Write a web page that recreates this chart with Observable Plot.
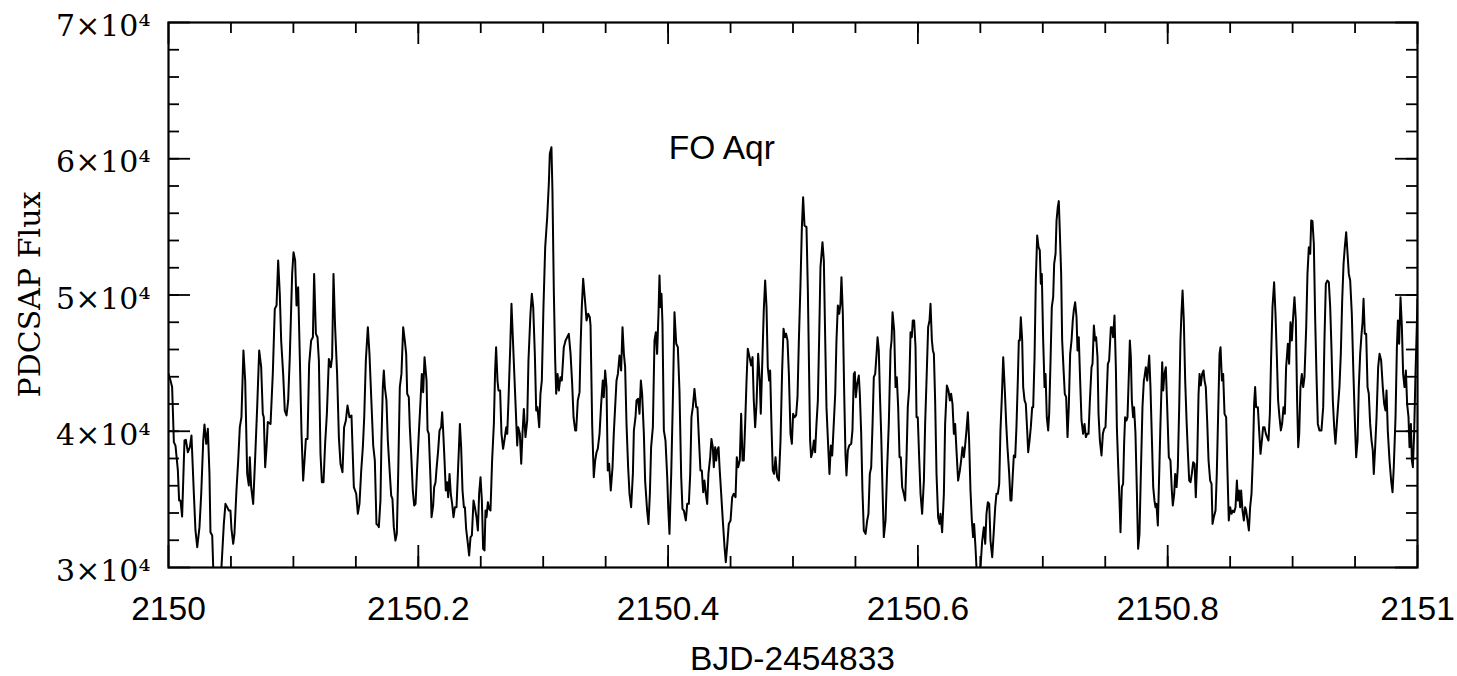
<!DOCTYPE html>
<html>
<head>
<meta charset="utf-8">
<script src="https://cdn.jsdelivr.net/npm/d3@7"></script>
<script src="https://cdn.jsdelivr.net/npm/@observablehq/plot@0.6"></script>
<style>
  html, body { margin: 0; padding: 0; background: #fff; }
  svg { display: block; }
</style>
</head>
<body>
<div id="chart"></div>
<script>
// FO Aqr light curve: PDCSAP flux over one day, BJD - 2454833
const t0 = 2150;

// time since t0, in days
const dt = [
  0.0000,0.0016,0.0029,0.0043,0.0056,0.0075,0.0085,0.0096,0.0109,0.0128,
  0.0139,0.0155,0.0171,0.0184,0.0203,0.0216,0.0230,0.0248,0.0262,0.0278,
  0.0288,0.0302,0.0315,0.0328,0.0336,0.0350,0.0358,0.0390,0.0424,0.0443,
  0.0456,0.0470,0.0483,0.0496,0.0504,0.0518,0.0528,0.0544,0.0558,0.0571,
  0.0584,0.0600,0.0614,0.0630,0.0643,0.0651,0.0662,0.0678,0.0694,0.0710,
  0.0726,0.0742,0.0755,0.0763,0.0774,0.0785,0.0795,0.0817,0.0835,0.0851,
  0.0865,0.0878,0.0891,0.0902,0.0918,0.0931,0.0945,0.0958,0.0971,0.0990,
  0.1001,0.1014,0.1025,0.1038,0.1052,0.1065,0.1078,0.1089,0.1100,0.1113,
  0.1126,0.1142,0.1156,0.1166,0.1180,0.1193,0.1204,0.1217,0.1228,0.1241,
  0.1254,0.1268,0.1284,0.1300,0.1310,0.1321,0.1334,0.1350,0.1364,0.1377,
  0.1393,0.1406,0.1420,0.1433,0.1449,0.1465,0.1484,0.1503,0.1516,0.1529,
  0.1543,0.1556,0.1567,0.1580,0.1596,0.1609,0.1623,0.1639,0.1652,0.1665,
  0.1679,0.1684,0.1697,0.1705,0.1716,0.1724,0.1732,0.1745,0.1756,0.1772,
  0.1783,0.1793,0.1804,0.1817,0.1828,0.1839,0.1852,0.1865,0.1879,0.1892,
  0.1903,0.1911,0.1924,0.1932,0.1943,0.1956,0.1967,0.1978,0.1991,0.2004,
  0.2018,0.2028,0.2039,0.2050,0.2066,0.2074,0.2084,0.2098,0.2106,0.2119,
  0.2127,0.2138,0.2146,0.2159,0.2170,0.2183,0.2191,0.2199,0.2210,0.2220,
  0.2231,0.2239,0.2250,0.2260,0.2271,0.2282,0.2293,0.2306,0.2319,0.2333,
  0.2343,0.2354,0.2365,0.2373,0.2383,0.2397,0.2407,0.2418,0.2429,0.2442,
  0.2453,0.2466,0.2477,0.2487,0.2498,0.2509,0.2519,0.2530,0.2538,0.2546,
  0.2557,0.2567,0.2578,0.2591,0.2605,0.2615,0.2623,0.2634,0.2642,0.2655,
  0.2666,0.2679,0.2693,0.2704,0.2712,0.2722,0.2736,0.2746,0.2760,0.2773,
  0.2792,0.2800,0.2813,0.2824,0.2834,0.2845,0.2858,0.2872,0.2882,0.2898,
  0.2909,0.2920,0.2933,0.2944,0.2954,0.2968,0.2978,0.2989,0.3002,0.3016,
  0.3032,0.3045,0.3053,0.3066,0.3074,0.3085,0.3096,0.3104,0.3115,0.3125,
  0.3138,0.3149,0.3165,0.3179,0.3192,0.3205,0.3219,0.3232,0.3243,0.3256,
  0.3264,0.3277,0.3291,0.3299,0.3309,0.3320,0.3339,0.3347,0.3360,0.3373,
  0.3379,0.3392,0.3405,0.3416,0.3427,0.3437,0.3451,0.3464,0.3477,0.3485,
  0.3496,0.3507,0.3517,0.3528,0.3541,0.3555,0.3565,0.3576,0.3587,0.3598,
  0.3611,0.3624,0.3635,0.3646,0.3656,0.3667,0.3680,0.3691,0.3704,0.3718,
  0.3726,0.3739,0.3747,0.3760,0.3771,0.3782,0.3792,0.3806,0.3816,0.3832,
  0.3843,0.3854,0.3864,0.3878,0.3891,0.3902,0.3912,0.3923,0.3931,0.3939,
  0.3947,0.3955,0.3966,0.3979,0.3993,0.4001,0.4011,0.4025,0.4038,0.4051,
  0.4065,0.4078,0.4091,0.4105,0.4115,0.4126,0.4142,0.4153,0.4166,0.4177,
  0.4187,0.4198,0.4211,0.4225,0.4235,0.4246,0.4259,0.4270,0.4281,0.4291,
  0.4302,0.4313,0.4323,0.4337,0.4347,0.4358,0.4366,0.4377,0.4385,0.4393,
  0.4404,0.4412,0.4425,0.4438,0.4452,0.4462,0.4473,0.4486,0.4500,0.4513,
  0.4526,0.4540,0.4550,0.4561,0.4574,0.4585,0.4596,0.4606,0.4617,0.4628,
  0.4638,0.4652,0.4665,0.4676,0.4686,0.4697,0.4708,0.4721,0.4734,0.4742,
  0.4756,0.4766,0.4777,0.4788,0.4798,0.4809,0.4817,0.4828,0.4838,0.4849,
  0.4860,0.4873,0.4887,0.4900,0.4913,0.4924,0.4937,0.4945,0.4956,0.4967,
  0.4980,0.4991,0.5001,0.5012,0.5025,0.5036,0.5047,0.5060,0.5071,0.5081,
  0.5092,0.5108,0.5119,0.5129,0.5137,0.5145,0.5156,0.5167,0.5177,0.5188,
  0.5199,0.5210,0.5220,0.5236,0.5247,0.5258,0.5268,0.5282,0.5292,0.5303,
  0.5314,0.5327,0.5338,0.5348,0.5359,0.5370,0.5380,0.5388,0.5399,0.5410,
  0.5420,0.5428,0.5439,0.5450,0.5466,0.5476,0.5487,0.5495,0.5503,0.5514,
  0.5527,0.5535,0.5546,0.5556,0.5567,0.5581,0.5594,0.5604,0.5615,0.5626,
  0.5637,0.5647,0.5658,0.5669,0.5677,0.5687,0.5695,0.5706,0.5717,0.5727,
  0.5741,0.5754,0.5767,0.5781,0.5789,0.5797,0.5810,0.5821,0.5831,0.5842,
  0.5853,0.5863,0.5874,0.5887,0.5898,0.5909,0.5919,0.5930,0.5941,0.5951,
  0.5959,0.5970,0.5981,0.5989,0.5999,0.6010,0.6021,0.6034,0.6048,0.6058,
  0.6069,0.6082,0.6093,0.6101,0.6112,0.6120,0.6128,0.6138,0.6149,0.6162,
  0.6173,0.6181,0.6194,0.6208,0.6218,0.6232,0.6245,0.6256,0.6266,0.6277,
  0.6288,0.6298,0.6309,0.6322,0.6336,0.6346,0.6357,0.6368,0.6378,0.6389,
  0.6400,0.6410,0.6421,0.6432,0.6442,0.6450,0.6461,0.6469,0.6480,0.6501,
  0.6515,0.6528,0.6539,0.6549,0.6560,0.6571,0.6581,0.6595,0.6608,0.6619,
  0.6629,0.6640,0.6651,0.6661,0.6672,0.6683,0.6696,0.6707,0.6717,0.6731,
  0.6741,0.6749,0.6760,0.6768,0.6779,0.6789,0.6800,0.6808,0.6816,0.6824,
  0.6835,0.6843,0.6854,0.6864,0.6875,0.6883,0.6894,0.6904,0.6915,0.6923,
  0.6934,0.6944,0.6955,0.6966,0.6976,0.6984,0.6992,0.7003,0.7014,0.7022,
  0.7032,0.7043,0.7051,0.7062,0.7072,0.7083,0.7091,0.7102,0.7110,0.7120,
  0.7128,0.7136,0.7147,0.7155,0.7168,0.7176,0.7187,0.7198,0.7208,0.7219,
  0.7230,0.7240,0.7248,0.7259,0.7270,0.7278,0.7288,0.7299,0.7310,0.7323,
  0.7334,0.7345,0.7355,0.7366,0.7377,0.7390,0.7398,0.7409,0.7419,0.7427,
  0.7438,0.7446,0.7457,0.7470,0.7481,0.7491,0.7502,0.7513,0.7521,0.7531,
  0.7545,0.7553,0.7563,0.7574,0.7585,0.7593,0.7603,0.7614,0.7622,0.7633,
  0.7643,0.7651,0.7659,0.7670,0.7678,0.7689,0.7697,0.7705,0.7713,0.7723,
  0.7731,0.7742,0.7753,0.7763,0.7774,0.7785,0.7798,0.7809,0.7814,0.7825,
  0.7836,0.7844,0.7852,0.7862,0.7873,0.7884,0.7894,0.7902,0.7910,0.7921,
  0.7932,0.7942,0.7956,0.7964,0.7974,0.7985,0.7996,0.8009,0.8022,0.8033,
  0.8041,0.8052,0.8060,0.8071,0.8081,0.8092,0.8102,0.8110,0.8119,0.8129,
  0.8140,0.8151,0.8161,0.8172,0.8183,0.8193,0.8204,0.8215,0.8225,0.8236,
  0.8247,0.8255,0.8265,0.8276,0.8287,0.8295,0.8305,0.8316,0.8327,0.8340,
  0.8351,0.8359,0.8369,0.8383,0.8393,0.8404,0.8415,0.8423,0.8434,0.8444,
  0.8455,0.8468,0.8479,0.8489,0.8500,0.8511,0.8522,0.8532,0.8543,0.8554,
  0.8562,0.8570,0.8580,0.8588,0.8599,0.8610,0.8620,0.8628,0.8639,0.8650,
  0.8660,0.8671,0.8682,0.8692,0.8700,0.8708,0.8722,0.8732,0.8743,0.8754,
  0.8764,0.8775,0.8786,0.8796,0.8807,0.8818,0.8828,0.8839,0.8852,0.8863,
  0.8874,0.8884,0.8895,0.8906,0.8916,0.8927,0.8938,0.8948,0.8962,0.8972,
  0.8983,0.8994,0.9004,0.9015,0.9026,0.9036,0.9045,0.9053,0.9063,0.9074,
  0.9085,0.9095,0.9109,0.9119,0.9130,0.9141,0.9149,0.9159,0.9170,0.9181,
  0.9191,0.9202,0.9215,0.9231,0.9245,0.9255,0.9266,0.9279,0.9290,0.9301,
  0.9311,0.9322,0.9333,0.9343,0.9354,0.9365,0.9375,0.9386,0.9397,0.9408,
  0.9418,0.9429,0.9440,0.9450,0.9461,0.9474,0.9487,0.9501,0.9509,0.9520,
  0.9530,0.9541,0.9552,0.9560,0.9568,0.9578,0.9589,0.9600,0.9610,0.9621,
  0.9632,0.9642,0.9650,0.9661,0.9672,0.9685,0.9696,0.9709,0.9722,0.9733,
  0.9744,0.9752,0.9762,0.9776,0.9789,0.9800,0.9810,0.9824,0.9835,0.9843,
  0.9853,0.9864,0.9875,0.9885,0.9896,0.9907,0.9917,0.9928,0.9936,0.9947,
  0.9955,0.9963,0.9973,0.9984,0.9995,1.0000
];

// PDCSAP flux (e-/s)
const flux = [
  44210,43720,43240,39200,38950,37120,34920,34920,33740,39320,
  39370,38460,38830,39690,35410,32720,31490,32960,35410,39320,
  40500,39080,40180,36870,32590,32350,30020,28000,30020,33200,
  34670,34430,34180,34180,32840,31740,32470,35650,37850,40300,
  41030,45930,43720,36870,36020,38100,35900,34670,38100,41770,
  45930,44700,41280,41030,37360,38830,40670,40540,44210,48980,
  49230,52530,50090,46660,44210,41520,41160,42260,45440,51550,
  53140,52530,49230,50570,45190,39810,36380,37850,39440,39440,
  44950,46660,46900,51550,47150,46900,45190,38340,36260,36260,
  39080,41280,45310,44700,45440,51550,47640,44210,39570,37610,
  36990,40300,40790,41890,41030,41160,35900,35410,33940,34670,
  37120,38830,41030,45190,47640,45680,42500,38950,37850,33200,
  33080,32960,34920,39320,43240,44460,43240,42260,39320,36870,
  35280,35040,32960,31980,32470,36870,43240,44210,47640,46660,
  45680,42750,42500,40300,38340,35650,34550,34670,37360,39810,
  42260,44210,42870,45440,43720,40060,39810,36380,33690,34550,
  35900,36260,37240,38590,40060,40300,41400,40060,37850,35650,
  36260,35160,36870,35410,34670,33690,34430,34430,37360,40540,
  38830,35650,34430,34430,32840,31740,30880,32230,32350,34920,
  34430,33690,32720,35410,36630,34920,31370,31250,34180,33690,
  34790,34300,34180,37850,40540,44460,46170,43720,42990,42990,
  39810,38710,39570,40300,39810,42260,46170,49350,46170,43240,
  38950,40300,39810,37610,39810,41640,39570,40790,45190,48620,
  50090,49110,45680,41520,41770,40300,42750,43720,49110,53510,
  55710,58160,60360,60850,57670,50330,45190,42750,44210,42990,
  43970,43720,46170,46660,46900,47150,45680,43480,41030,40060,
  40060,42260,42870,46170,49110,51190,49110,48130,48620,48370,
  47760,40540,36630,37850,38460,38710,39810,42010,43720,42500,
  44460,43240,37120,37610,35650,37360,39810,41770,43720,44210,
  45560,44460,47640,45680,44700,40540,37360,35410,34430,36870,
  40060,41030,42260,42380,41280,43720,42750,39810,36380,34180,
  33200,35410,38830,40300,46660,47270,45680,48620,51430,49110,
  50090,47880,40060,39320,36630,34430,32470,36870,42260,48740,
  46420,46170,42990,36630,34300,34180,33450,34670,34670,36870,
  41030,41770,43110,41770,41770,39570,37120,37120,35530,36380,
  35410,34670,36870,38100,39440,38830,37360,38830,37850,38590,
  38830,37360,35410,33450,31490,30390,31610,33200,33450,35160,
  35410,35160,38100,37360,37850,41280,37850,37850,40540,43720,
  46050,45440,44830,45440,42260,40300,42010,45680,43720,41280,
  45680,48860,51060,49110,44700,43720,44460,40300,37120,36870,
  38100,36630,36380,39320,44460,47520,46900,47150,46660,44210,
  39810,39080,41280,41030,41160,42500,46660,50820,54980,57180,
  55100,54980,50330,44210,39320,38100,38460,39320,38460,40540,
  42260,47150,52040,53880,52530,46660,41770,38830,36870,38950,
  38220,40670,42750,46660,49230,48620,49350,51310,48620,42750,
  38340,36750,38590,38950,39080,40060,44210,44340,42500,43480,
  44090,42750,39810,35650,32720,32470,33450,33940,36870,37360,
  40540,43970,44210,45680,46900,45930,42990,39810,35650,32230,
  33450,37360,40540,45930,46660,48740,47390,43240,43970,41770,
  38100,38100,35900,35410,34920,38100,41770,43110,47270,46900,
  48130,48130,46170,41030,41030,38100,35410,33940,36380,40540,
  43720,47640,48130,49350,46660,45930,45680,42260,36870,33690,
  33200,33940,32590,35410,40540,43360,42990,42260,42750,42010,
  39810,40540,38590,36380,37120,37850,38830,38100,38950,40060,
  41400,39320,35650,33450,32230,33200,31490,30020,28800,30020,
  31980,32960,31740,33940,34790,34670,31980,30760,32720,34430,
  35410,35410,36140,40060,42500,45440,42990,40540,38830,36870,
  34920,34920,36870,38220,38100,40300,43720,46660,46660,48370,
  46660,43240,42260,42010,40060,38460,39320,40300,41770,41770,
  45440,51060,54370,53510,53270,50820,51550,46660,43240,44210,
  41030,40060,41280,45190,49110,49840,52290,53020,55470,56450,
  56890,54730,51550,46660,44210,42750,42500,39570,41770,45680,
  46660,48130,48860,49470,48370,45930,46900,43720,40790,39810,
  40540,39570,39810,39810,42260,44700,44950,47760,46660,46900,
  45440,41280,39320,38220,39810,40180,40300,42990,44950,45190,
  47640,47640,46900,48500,44700,40300,37610,34920,32590,35900,
  36140,39080,41030,40790,41030,44210,46660,45440,42260,41030,
  41770,39810,35650,31370,32470,36870,41770,43720,43970,44700,
  43720,44700,45560,43240,39570,35900,34920,34430,34670,33080,
  36870,40540,45070,42990,44210,44700,41770,38100,37850,35650,
  34550,35410,36870,35900,37360,41770,46660,48620,50330,48130,
  43720,40790,38590,36380,36260,36870,37730,37610,35160,37850,
  42750,44210,43360,44210,44460,43720,43240,40790,37850,36380,
  36140,33200,33690,34180,36870,41280,45680,46170,43720,44210,
  41280,41030,36870,33450,34430,33940,34180,34060,34430,36380,
  34920,35650,34430,35650,34180,33450,34430,34180,33450,32720,
  34430,35410,38100,42010,43240,41770,41770,40060,38340,39320,
  40300,40300,39810,39570,39320,41280,45440,49110,50940,48620,
  45440,42260,41030,40060,40540,41770,41280,44700,46420,44950,
  48000,46660,48370,49840,48130,42260,38830,39810,43240,44210,
  43240,43970,47640,51550,53510,53020,55470,55420,53760,48130,
  44210,40540,40060,40060,41770,46660,50820,51060,50940,49110,
  46170,42260,40300,39080,40540,42010,43240,45680,49600,52290,
  53510,54610,53020,51550,51060,48620,44210,40060,38100,39320,
  43240,45680,47150,48000,49720,47150,47150,43240,42750,40540,
  39320,38590,36870,38830,41030,44700,45680,45190,43240,42010,
  41520,42990,40060,37850,36380,35530,37360,41030,46170,48130,
  46420,49840,47640,44210,43240,44460,42010,41030,38830,40540,
  37850,37360,39810,44210,47880,49700
];

// axis ticks and labels
const xTicks = [2150, 2150.2, 2150.4, 2150.6, 2150.8, 2151];
const xTickLabels = ["2150", "2150.2", "2150.4", "2150.6", "2150.8", "2151"];
const xMinorTicks = d3.range(1, 20).map(k => t0 + k * 0.05);
const yTicks = [30000, 40000, 50000, 60000, 70000];
const yTickLabels = ["3×10⁴", "4×10⁴", "5×10⁴", "6×10⁴", "7×10⁴"];
const yMinorTicks = d3.range(32000, 70000, 2000);

const titleText = "FO Aqr";
const xLabel = "BJD-2454833";
const yLabel = "PDCSAP Flux";

const rows = dt.map((d, i) => ({time: t0 + d, flux: flux[i]}));

// layout
const width = 1457, height = 676;
const mL = 168, mR = 40, mT = 22, mB = 109;
const innerW = width - mL - mR;
const innerH = height - mT - mB;
const majorLen = 22, minorLen = 11;
const sans = "'Liberation Sans', Arial, Helvetica, sans-serif";
const serif = "'DejaVu Serif', serif";
const sansSize = 33.5;
const tickStyle = {stroke: "black", strokeWidth: 1.8};

const chart = Plot.plot({
  width, height,
  marginLeft: mL, marginRight: mR, marginTop: mT, marginBottom: mB,
  style: {background: "white", color: "black", overflow: "visible"},
  x: {domain: [2150, 2151], axis: null},
  y: {domain: [30000, 70000], axis: null},
  marks: [
    Plot.line(rows, {x: "time", y: "flux", stroke: "black", strokeWidth: 2, strokeLinejoin: "round", clip: true}),

    // inward ticks on all four sides
    Plot.ruleX(xTicks, {x: d => d, insetTop: innerH - majorLen, ...tickStyle}),
    Plot.ruleX(xTicks, {x: d => d, insetBottom: innerH - majorLen, ...tickStyle}),
    Plot.ruleX(xMinorTicks, {x: d => d, insetTop: innerH - minorLen, ...tickStyle}),
    Plot.ruleX(xMinorTicks, {x: d => d, insetBottom: innerH - minorLen, ...tickStyle}),
    Plot.ruleY(yTicks, {y: d => d, insetRight: innerW - majorLen, ...tickStyle}),
    Plot.ruleY(yTicks, {y: d => d, insetLeft: innerW - majorLen, ...tickStyle}),
    Plot.ruleY(yMinorTicks, {y: d => d, insetRight: innerW - minorLen, ...tickStyle}),
    Plot.ruleY(yMinorTicks, {y: d => d, insetLeft: innerW - minorLen, ...tickStyle}),

    Plot.frame({stroke: "black", strokeWidth: 2.2}),

    // tick labels
    Plot.text(xTicks, {
      x: d => d, text: (d, i) => xTickLabels[i],
      frameAnchor: "bottom", lineAnchor: "top", dy: 29,
      fontSize: sansSize, fontFamily: sans, fill: "black"
    }),
    Plot.text(yTicks, {
      y: d => d, text: (d, i) => yTickLabels[i],
      frameAnchor: "left", textAnchor: "end", dx: -18, dy: 4,
      fontSize: 30, fontFamily: serif, fill: "black"
    }),

    // object name
    Plot.text([titleText], {
      x: 2150.443, y: 60000, text: d => d, lineAnchor: "bottom",
      fontSize: sansSize, fontFamily: sans, fill: "black"
    })
  ]
});

const svg = d3.select(chart);
svg.append("text")
  .attr("x", mL + innerW / 2)
  .attr("y", 670)
  .attr("text-anchor", "middle")
  .attr("fill", "black")
  .style("font-family", sans)
  .style("font-size", `${sansSize}px`)
  .text(xLabel);

svg.append("text")
  .attr("transform", `translate(40,${mT + innerH / 2}) rotate(-90)`)
  .attr("text-anchor", "middle")
  .attr("fill", "black")
  .style("font-family", serif)
  .style("font-size", "30px")
  .text(yLabel);

document.getElementById("chart").appendChild(chart);
</script>
</body>
</html>
